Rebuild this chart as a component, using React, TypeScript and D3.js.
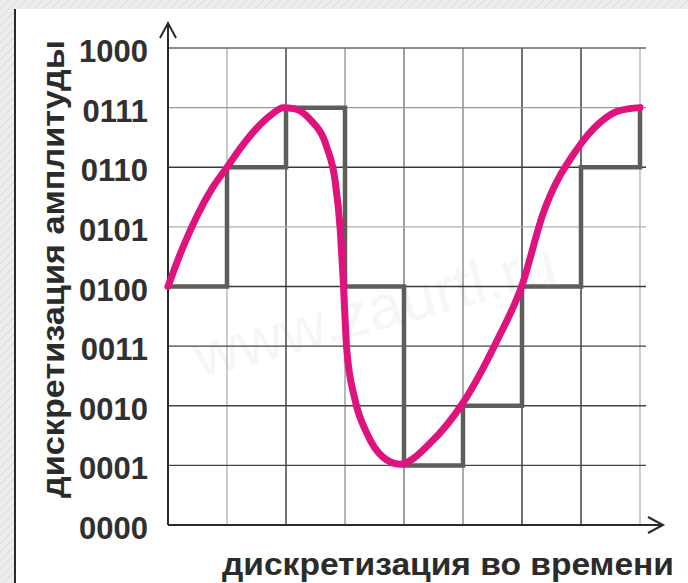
import React from "react";
import * as d3 from "d3";

const levelLabels = ["0000", "0001", "0010", "0011", "0100", "0101", "0110", "0111", "1000"];
const timeTicks = [0, 1, 2, 3, 4, 5, 6, 7, 8];
const sampleLevels = [4, 6, 7, 4, 1, 2, 4, 6, 7];
const curveX = [0, 0.25, 0.5, 0.75, 1.0, 1.25, 1.5, 1.75, 1.95, 2.15, 2.41, 2.69, 2.83, 2.92, 2.97, 3.03, 3.17, 3.37, 3.64, 3.93, 4.44, 5.0, 5.58, 6.0, 6.36, 6.93, 7.32, 7.65, 8.0];
const curveY = [4.0, 4.65, 5.2, 5.65, 6.0, 6.35, 6.65, 6.88, 7.0, 6.98, 6.8, 6.34, 5.79, 4.95, 4.1, 2.94, 2.1, 1.54, 1.14, 1.02, 1.37, 2.05, 3.1, 4.02, 5.23, 6.3, 6.75, 6.95, 7.0];
const vGridColors = ["#333", "#b5b5b5", "#3a3a3a", "#999", "#777", "#888", "#333", "#333", "#bbb"];
const hGridColors = ["#333", "#444", "#444", "#444", "#3a3a3a", "#b0b0b0", "#3a3a3a", "#999", "#666"];

const yTitle = "дискретизация амплитуды";
const xTitle = "дискретизация во времени";
const watermark = "www.zaurtl.ru";

export default function App() {
  const W = 688, H = 583;
  const x = d3.scaleLinear().domain([0, 8]).range([168, 640]);
  const y = d3.scaleLinear().domain([0, 8]).range([525, 48]);

  const stepLine = d3.line<number>()
    .x((_, i) => x(timeTicks[i]))
    .y((v) => y(v))
    .curve(d3.curveStepAfter);

  const curvePts = curveX.map((cx, i) => [cx, curveY[i]] as [number, number]);
  const curveLine = d3.line<[number, number]>()
    .x((d) => x(d[0]))
    .y((d) => y(d[1]))
    .curve(d3.curveMonotoneX);

  const font = "'Liberation Sans', Arial, sans-serif";

  return (
    <svg width={W} height={H} style={{ position: "absolute", left: 0, top: 0 }} xmlns="http://www.w3.org/2000/svg">
      <defs>
        <pattern id="stripes" width="6" height="6" patternUnits="userSpaceOnUse" patternTransform="rotate(45)">
          <rect width="6" height="6" fill="#ededed" />
          <line x1="0" y1="0" x2="0" y2="6" stroke="#dcdcdc" strokeWidth="2" />
        </pattern>
      </defs>
      <rect x={0} y={0} width={W} height={H} fill="url(#stripes)" />
      <rect x={16} y={9} width={W - 16} height={H - 9} fill="#ffffff" />
      <line x1={15} y1={9} x2={15} y2={H} stroke="#2a2a2a" strokeWidth={2} />

      <text
        x={380} y={330}
        transform="rotate(-15 380 330)"
        textAnchor="middle"
        fontFamily={font}
        fontSize={62}
        fill="#000"
        opacity={0.03}
      >{watermark}</text>

      {/* grid */}
      {timeTicks.slice(1).map((t, i) => (
        <line key={"v" + t} x1={x(t)} x2={x(t)} y1={y(8)} y2={y(0)} stroke={vGridColors[i + 1]} strokeWidth={1.4} />
      ))}
      {levelLabels.map((_, i) => i === 0 ? null : (
        <line key={"h" + i} x1={x(0)} x2={x(8) + 6} y1={y(i)} y2={y(i)} stroke={hGridColors[i]} strokeWidth={1.4} />
      ))}

      {/* axes */}
      <line x1={x(0)} x2={x(0)} y1={y(0)} y2={23} stroke="#2a2a2a" strokeWidth={2} />
      <polyline points={`${x(0) - 8},38 ${x(0)},23 ${x(0) + 8},38`} fill="none" stroke="#2a2a2a" strokeWidth={2} />
      <line x1={x(0)} x2={663} y1={y(0)} y2={y(0)} stroke="#2a2a2a" strokeWidth={2} />
      <polyline points={`648,${y(0) - 8} 663,${y(0)} 648,${y(0) + 8}`} fill="none" stroke="#2a2a2a" strokeWidth={2} />

      {/* tick labels */}
      {levelLabels.map((lab, i) => (
        <text key={lab} x={148} y={y(i) + 14} textAnchor="end" fontFamily={font} fontSize={31} fontWeight="bold" fill="#303030">{lab}</text>
      ))}

      {/* quantized step line */}
      <path d={stepLine(sampleLevels) || ""} fill="none" stroke="#5e5e58" strokeWidth={4.5} strokeLinejoin="miter" />

      {/* analog signal */}
      <path d={curveLine(curvePts) || ""} fill="none" stroke="#e0127d" strokeWidth={7} strokeLinecap="round" />

      {/* titles */}
      <text
        x={0} y={0}
        transform={`translate(64 269) rotate(-90)`}
        textAnchor="middle"
        fontFamily={font}
        fontSize={32}
        fontWeight="bold"
        fill="#2b2b2b"
        textLength={458}
        lengthAdjust="spacingAndGlyphs"
      >{yTitle}</text>
      <text
        x={448} y={575}
        textAnchor="middle"
        fontFamily={font}
        fontSize={32}
        fontWeight="bold"
        fill="#2b2b2b"
        textLength={452}
        lengthAdjust="spacingAndGlyphs"
      >{xTitle}</text>
    </svg>
  );
}
